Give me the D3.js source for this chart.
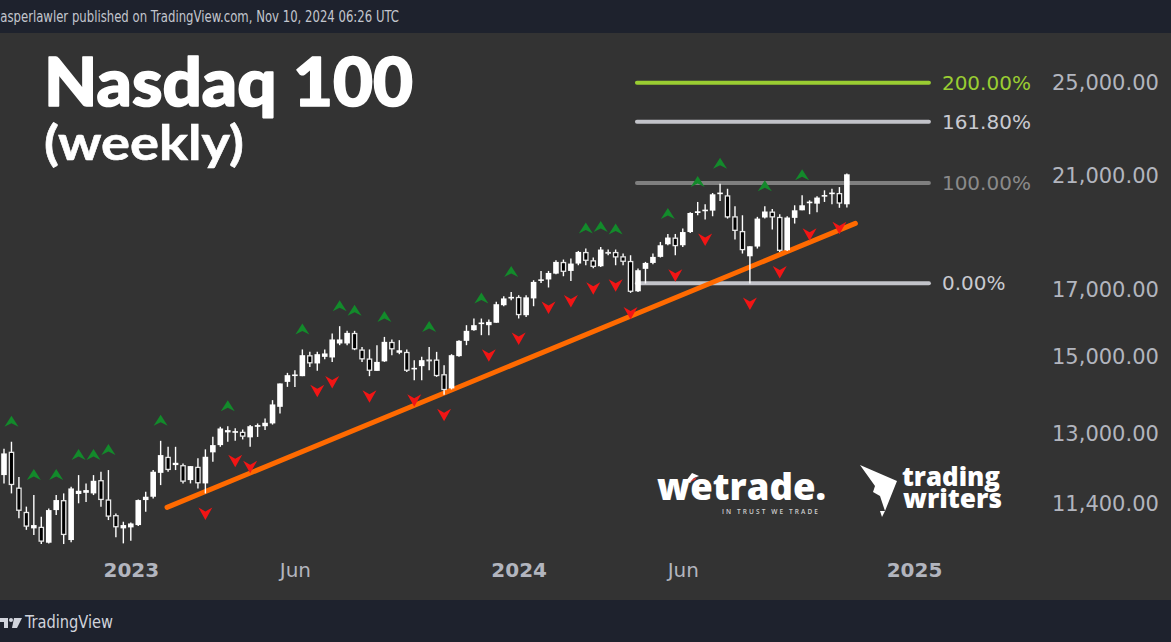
<!DOCTYPE html>
<html><head><meta charset="utf-8">
<script src="https://cdn.jsdelivr.net/npm/d3@7"></script>
<style>html,body{margin:0;padding:0;background:#333333;overflow:hidden}</style>
</head><body>
<svg id="c" width="1171" height="642" xmlns="http://www.w3.org/2000/svg"></svg>
<script>
// ---------- DATA ----------
const dates = [
"2022-09-05","2022-09-12","2022-09-19","2022-09-26","2022-10-03","2022-10-10","2022-10-17","2022-10-24","2022-10-31","2022-11-07",
"2022-11-14","2022-11-21","2022-11-28","2022-12-05","2022-12-12","2022-12-19","2022-12-26","2023-01-02","2023-01-09","2023-01-16",
"2023-01-23","2023-01-30","2023-02-06","2023-02-13","2023-02-20","2023-02-27","2023-03-06","2023-03-13","2023-03-20","2023-03-27",
"2023-04-03","2023-04-10","2023-04-17","2023-04-24","2023-05-01","2023-05-08","2023-05-15","2023-05-22","2023-05-29","2023-06-05",
"2023-06-12","2023-06-19","2023-06-26","2023-07-03","2023-07-10","2023-07-17","2023-07-24","2023-07-31","2023-08-07","2023-08-14",
"2023-08-21","2023-08-28","2023-09-04","2023-09-11","2023-09-18","2023-09-25","2023-10-02","2023-10-09","2023-10-16","2023-10-23",
"2023-10-30","2023-11-06","2023-11-13","2023-11-20","2023-11-27","2023-12-04","2023-12-11","2023-12-18","2023-12-25","2024-01-01",
"2024-01-08","2024-01-15","2024-01-22","2024-01-29","2024-02-05","2024-02-12","2024-02-19","2024-02-26","2024-03-04","2024-03-11",
"2024-03-18","2024-03-25","2024-04-01","2024-04-08","2024-04-15","2024-04-22","2024-04-29","2024-05-06","2024-05-13","2024-05-20",
"2024-05-27","2024-06-03","2024-06-10","2024-06-17","2024-06-24","2024-07-01","2024-07-08","2024-07-15","2024-07-22","2024-07-29",
"2024-08-05","2024-08-12","2024-08-19","2024-08-26","2024-09-02","2024-09-09","2024-09-16","2024-09-23","2024-09-30","2024-10-07",
"2024-10-14","2024-10-21","2024-10-28","2024-11-04"];
const openP = [
12015,12550,11740,11220,10880,10913,10593,11257,11469,10646,
11600,11625,11612,11904,11483,11153,10880,10900,10947,11469,
11540,12065,12432,12241,12241,11904,12203,11830,12535,12705,
13010,13000,13025,12890,13146,13160,13229,13644,14293,14450,
14446,15022,14792,14975,14958,15353,15353,15659,15183,14930,
14589,14850,15399,15090,15115,14640,14718,14902,14902,14500,
14120,14995,15428,15738,15920,15885,15957,16487,16710,16745,
16183,16697,17260,17296,17486,17872,17574,17817,18207,17928,
17728,18207,18207,18062,17905,16920,17642,17838,18040,18469,
18702,18435,18894,19577,19650,19663,20290,20233,19458,18932,
18060,18390,19412,19631,19436,18264,19400,19675,19950,19920,
20190,20290,20320,19897];
const highP = [
12620,12785,11975,11330,11576,11118,11290,11576,11612,11756,
12015,11830,12015,12090,12128,11188,11015,11000,11483,11648,
12128,12807,12665,12665,12280,12218,12395,12605,12903,13146,
13160,13110,13080,13187,13228,13352,13815,14251,14535,14608,
15183,15115,15115,15183,15642,15855,15718,15718,15255,15183,
15304,15542,15468,15448,15183,14883,14975,15255,15115,14745,
15050,15448,15885,16083,16083,16052,16590,16766,16901,16797,
16797,17272,17574,17574,17928,17951,17984,18241,18322,18018,
18377,18288,18288,18152,18095,17653,17872,18152,18549,18827,
18827,19017,19600,19983,19897,20320,20677,20480,19823,19494,
18401,19436,19823,19719,19532,19458,19860,20233,20045,20199,
20421,20480,20545,21066];
const lowP = [
11830,11612,11085,10850,10745,10567,10580,11153,10567,10600,
11400,11430,11576,11326,11050,10700,10580,10630,10927,11220,
11505,11793,12090,12128,11830,11830,11720,11612,12317,12665,
12784,12810,12840,12665,12900,13065,13200,13478,14161,14158,
14446,14698,14589,14905,14835,15304,15304,15163,14835,14446,
14589,14835,15022,15050,14560,14339,14339,14608,14428,13957,
14093,14975,15304,15718,15592,15592,15957,16456,16641,16084,
16132,16456,17186,17040,17466,17401,17250,17761,17761,17658,
17705,18095,17761,17761,16870,16900,17167,17794,18018,18435,
18095,18377,18860,19494,19338,19458,20019,19374,18630,18152,
17167,18322,19374,18981,18207,18241,19195,19675,19532,19603,
19983,19897,19767,19780];
const closeP = [
12510,11793,11240,10913,10947,10612,11257,11469,10745,11720,
11669,11684,11888,11469,11118,10900,10947,10980,11469,11540,
12090,12471,12128,12293,11866,12218,11830,12432,12705,13105,
13065,13040,12904,13160,13187,13245,13705,14251,14473,14490,
15022,14792,15050,15070,15468,15468,15659,15183,14902,14589,
14835,15399,15183,15160,14589,14660,14883,14850,14446,14075,
15022,15428,15718,15885,15960,15983,16518,16697,16730,16183,
16730,17218,17290,17508,17872,17541,17817,18207,17905,17705,
18288,18150,18018,17872,16901,17597,17838,18040,18435,18702,
18401,18894,19577,19640,19690,20270,20320,19412,18932,18264,
18401,19374,19631,19412,18241,19412,19675,19860,19980,20147,
20233,20320,19920,21039];
const fractalHighDates = ["2022-09-12","2022-10-03","2022-10-24","2022-11-14","2022-11-28","2022-12-12","2023-01-30","2023-04-03",
"2023-06-12","2023-07-17","2023-07-31","2023-08-28","2023-10-09","2023-11-27","2023-12-25","2024-03-04","2024-03-18","2024-04-01",
"2024-05-20","2024-06-17","2024-07-08","2024-08-19","2024-09-23"];
const fractalLowDates = ["2023-03-13","2023-04-10","2023-04-24","2023-06-26","2023-07-10","2023-08-14","2023-09-25","2023-10-23",
"2023-12-04","2024-01-01","2024-01-29","2024-02-19","2024-03-11","2024-04-01","2024-04-15","2024-05-27","2024-06-24","2024-08-05",
"2024-09-02","2024-09-30","2024-10-28"];
const priceTicks = [25000, 21000, 17000, 15000, 13000, 11400];
const timeTicks = ["2023-01-02","2023-06-05","2024-01-01","2024-06-03","2025-01-06"];
const timeTickLabels = ["2023","Jun","2024","Jun","2025"];
const fibLabels = ["200.00%","161.80%","100.00%","0.00%"];
const fibPrices = [24956, 23201, 20698, 17174];
const fibDates = ["2024-04-21","2025-01-20"];
const trendDates = ["2023-02-05","2024-11-12"];
const trendPrices = [11315, 19200];

// ---------- SETUP ----------
const W = 1171, H = 642;
const svg = d3.select("#c");
const parse = d3.utcParse("%Y-%m-%d");
const x = d3.scaleUtc().domain([parse("2022-09-05"), parse("2025-01-06")]).range([4, 914]);
const y = d3.scaleLog().domain([11400, 25000]).range([503.3, 81.7]);

svg.append("rect").attr("width", W).attr("height", H).attr("fill", "#333333");
// top bar
svg.append("rect").attr("x",0).attr("y",0).attr("width",W).attr("height",33).attr("fill","#1e222d");
svg.append("text").attr("x",-3).attr("y",22)
  .attr("font-family","'Liberation Sans Narrow','DejaVu Sans Condensed','Liberation Sans',sans-serif")
  .attr("font-size",15).attr("fill","#c3c6ce")
  .attr("textLength",402).attr("lengthAdjust","spacingAndGlyphs")
  .text("jasperlawler published on TradingView.com, Nov 10, 2024 06:26 UTC");
// bottom bar
svg.append("rect").attr("x",0).attr("y",600).attr("width",W).attr("height",42).attr("fill","#1e222d");

const defs = svg.append("defs");
defs.append("clipPath").attr("id","plot").append("rect").attr("x",0).attr("y",33).attr("width",1040).attr("height",515);

// title
svg.append("text").attr("x",44).attr("y",106).attr("font-family","Lato, 'Open Sans', sans-serif")
  .attr("font-weight",900).attr("font-size",66).attr("fill","#ffffff")
  .attr("stroke","#ffffff").attr("stroke-width",1.6).attr("stroke-linejoin","round")
  .attr("textLength",369).attr("lengthAdjust","spacingAndGlyphs").text("Nasdaq 100");
svg.append("text").attr("x",44).attr("y",160).attr("font-family","Lato, 'Open Sans', sans-serif")
  .attr("font-weight",700).attr("font-size",48).attr("fill","#ffffff")
  .attr("stroke","#ffffff").attr("stroke-width",0.6)
  .attr("textLength",200).attr("lengthAdjust","spacingAndGlyphs").text("(weekly)");

// watermark logos
const wm = svg.append("g");
wm.append("text").attr("x",657).attr("y",500).attr("font-family","'Open Sans', Lato, sans-serif")
  .attr("font-weight",800).attr("font-size",37).attr("fill","#ffffff")
  .attr("textLength",169).attr("lengthAdjust","spacingAndGlyphs").text("wetrade.");
wm.append("path").attr("d","M686,481 L692,473 L699,476 L694,478 L690,483 Z").attr("fill","#ffffff");
wm.append("path").attr("d","M690,482 Q693,478 697,477 L695,480 Z").attr("fill","#e53935");
wm.append("text").attr("x",722).attr("y",514).attr("font-family","'Open Sans', sans-serif")
  .attr("font-weight",600).attr("font-size",6.5).attr("fill","#d0d0d0")
  .attr("textLength",96).attr("lengthAdjust","spacing").text("IN TRUST WE TRADE");
wm.append("text").attr("x",902).attr("y",486).attr("font-family","'Open Sans', Lato, sans-serif")
  .attr("font-weight",800).attr("font-size",26).attr("fill","#ffffff")
  .attr("textLength",98).attr("lengthAdjust","spacingAndGlyphs").text("trading");
wm.append("text").attr("x",903).attr("y",508).attr("font-family","'Open Sans', Lato, sans-serif")
  .attr("font-weight",800).attr("font-size",26).attr("fill","#ffffff")
  .attr("textLength",99).attr("lengthAdjust","spacingAndGlyphs").text("writers");
wm.append("path").attr("d","M860,465 L897,481 L885,511 L880,496 L873,492 L875,486 Z").attr("fill","#ffffff");
wm.append("path").attr("d","M880,511 L885,511 L882,517 Z").attr("fill","#ffffff");

// ---------- PLOT ----------
const plot = svg.append("g").attr("clip-path","url(#plot)");

// fib lines
const fibColors = ["#9acd32","#c2c3c9","#7f7f7f","#c2c3c9"];
const fibTextColors = ["#9acd32","#c9cad0","#8a8a8a","#c9cad0"];
const fx0 = x(parse(fibDates[0])), fx1 = x(parse(fibDates[1]));
fibPrices.forEach((p,i)=>{
  plot.append("line").attr("x1",fx0).attr("x2",fx1).attr("y1",y(p)).attr("y2",y(p))
    .attr("stroke",fibColors[i]).attr("stroke-width",4).attr("stroke-linecap","round");
  svg.append("text").attr("x",fx1+13).attr("y",y(p)).attr("dy","0.36em")
    .attr("font-family","'DejaVu Sans', sans-serif").attr("font-size",20)
    .attr("fill",fibTextColors[i]).text(fibLabels[i]);
});

// trendline
plot.append("line")
  .attr("x1",x(parse(trendDates[0]))).attr("y1",y(trendPrices[0]))
  .attr("x2",x(parse(trendDates[1]))).attr("y2",y(trendPrices[1]))
  .attr("stroke","#ff6a00").attr("stroke-width",5).attr("stroke-linecap","round");

// candles
const bars = dates.map((d,i)=>({d:parse(d),o:openP[i],h:highP[i],l:lowP[i],c:closeP[i]}));
const bw = 5.6;
const cg = plot.append("g");
cg.selectAll("line.w").data(bars).join("line")
  .attr("x1",b=>x(b.d)).attr("x2",b=>x(b.d)).attr("y1",b=>y(b.h)).attr("y2",b=>y(b.l))
  .attr("stroke","#ffffff").attr("stroke-width",1.4);
cg.selectAll("rect.b").data(bars).join("rect")
  .attr("x",b=> b.c>=b.o ? x(b.d)-bw/2 : x(b.d)-bw/2+0.65)
  .attr("width",b=> b.c>=b.o ? bw : bw-1.3)
  .attr("y",b=>{const t=y(Math.max(b.o,b.c)); const h=Math.abs(y(b.o)-y(b.c)); return (h<1.6? t-(1.6-h)/2 : t) + (b.c>=b.o?0:0.65);})
  .attr("height",b=>{const h=Math.abs(y(b.o)-y(b.c)); const hh=Math.max(1.6,h); return b.c>=b.o? hh : Math.max(0.5,hh-1.3);})
  .attr("fill",b=> b.c>=b.o ? "#ffffff" : "#000000")
  .attr("stroke",b=> b.c>=b.o ? "none" : "#e8e8e8")
  .attr("stroke-width",1.3);

// fractal arrows
const byDate = new Map(dates.map((d,i)=>[d, bars[i]]));
const upPath = "M0,-6 L7,5 L0,1.5 L-7,5 Z";
const dnPath = "M0,6.5 L7,-6 L0,-2 L-7,-6 Z";
plot.selectAll("path.up").data(fractalHighDates).join("path")
  .attr("d",upPath).attr("fill","#138a2b")
  .attr("transform",d=>{const b=byDate.get(d); return `translate(${x(b.d)},${y(b.h)-20})`;});
plot.selectAll("path.dn").data(fractalLowDates).join("path")
  .attr("d",dnPath).attr("fill","#f21515")
  .attr("transform",d=>{const b=byDate.get(d); return `translate(${x(b.d)},${y(b.l)+20})`;});

// ---------- AXES ----------
const yAxis = svg.append("g").attr("transform","translate(1052,0)")
  .call(d3.axisRight(y).tickValues(priceTicks).tickFormat(d3.format(",.2f")).tickSize(0).tickPadding(0));
yAxis.select(".domain").remove();
yAxis.selectAll("text").attr("font-family","'DejaVu Sans', sans-serif").attr("font-size",21)
  .attr("fill","#b2b5be").attr("dy","0.36em");

const xAxis = svg.append("g").attr("transform","translate(0,562)")
  .call(d3.axisBottom(x).tickValues(timeTicks.map(parse)).tickFormat((d,i)=>timeTickLabels[i]).tickSize(0).tickPadding(0));
xAxis.select(".domain").remove();
xAxis.selectAll("text").attr("font-family","'DejaVu Sans', sans-serif").attr("font-size",20)
  .attr("fill","#b2b5be").attr("dy","0.75em")
  .attr("font-weight",(d,i)=> timeTickLabels[i]==="Jun" ? 400 : 700);

// TradingView footer logo
const lg = svg.append("g").attr("fill","#d1d4dc");
lg.append("path").attr("d","M0,618 L8,618 L8,628 L4,628 L4,622 L0,622 Z");
lg.append("circle").attr("cx",11).attr("cy",620).attr("r",2);
lg.append("path").attr("d","M14,618 L22,618 L17,628 L12,628 Z");
svg.append("text").attr("x",25).attr("y",628)
  .attr("font-family","'Liberation Sans Narrow','DejaVu Sans Condensed','Liberation Sans',sans-serif")
  .attr("font-size",17).attr("fill","#d1d4dc")
  .attr("textLength",88).attr("lengthAdjust","spacingAndGlyphs").text("TradingView");
</script>
</body></html>
